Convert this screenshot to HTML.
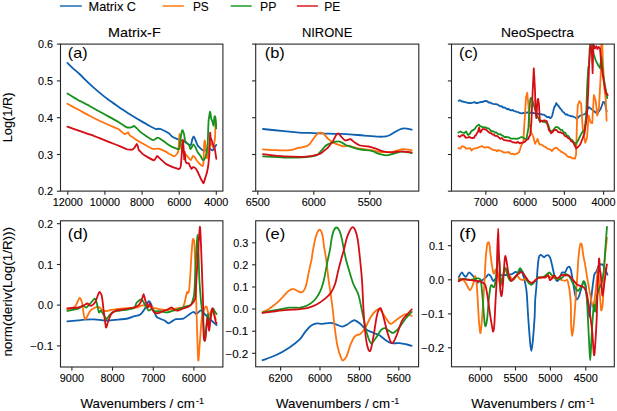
<!DOCTYPE html><html><head><meta charset="utf-8"><style>html,body{margin:0;padding:0;background:#fff;}svg{display:block;}text{font-family:"Liberation Sans", sans-serif;fill:#000;stroke:#000;stroke-width:0.1px;}</style></head><body>
<svg width="617" height="411" viewBox="0 0 617 411">
<rect width="617" height="411" fill="#fff"/>
<defs>
<clipPath id="clipa"><rect x="60.5" y="44.1" width="162.4" height="147.0"/></clipPath>
<clipPath id="clipb"><rect x="255.7" y="44.1" width="163.1" height="147.0"/></clipPath>
<clipPath id="clipc"><rect x="451.5" y="44.1" width="162.8" height="147.0"/></clipPath>
<clipPath id="clipd"><rect x="60.5" y="220.8" width="162.4" height="146.2"/></clipPath>
<clipPath id="clipe"><rect x="255.7" y="220.8" width="162.9" height="146.0"/></clipPath>
<clipPath id="clipf"><rect x="451.5" y="220.8" width="162.8" height="146.0"/></clipPath>
</defs>
<g clip-path="url(#clipa)" fill="none" stroke-width="1.8" stroke-linejoin="round" stroke-linecap="round">
<path stroke="#0d5fb0" d="M67.40,62.90C67.87,63.35 71.99,67.38 73.00,68.30C74.01,69.22 78.17,72.75 79.50,74.00C80.83,75.25 87.38,81.79 89.00,83.30C90.62,84.81 97.28,90.72 98.90,92.10C100.53,93.47 106.88,98.58 108.50,99.80C110.12,101.02 117.17,105.85 118.40,106.70C119.63,107.55 122.25,109.31 123.30,110.00C124.35,110.69 129.61,114.13 131.00,115.00C132.39,115.87 138.52,119.53 140.00,120.40C141.48,121.28 147.46,124.77 148.80,125.50C150.14,126.23 155.32,128.93 156.10,129.20C156.88,129.47 157.77,128.70 158.20,128.70C158.62,128.70 160.28,128.79 161.20,129.20C162.12,129.61 168.30,132.99 169.20,133.60C170.10,134.21 171.36,136.06 172.00,136.50C172.64,136.94 176.17,138.58 176.90,138.90C177.63,139.22 180.15,140.16 180.80,140.40C181.45,140.64 184.02,141.44 184.70,141.80C185.38,142.16 188.47,144.46 189.00,144.70C189.53,144.94 190.72,145.18 191.00,144.70C191.28,144.22 192.16,139.58 192.40,138.90C192.64,138.22 193.65,136.42 193.90,136.50C194.15,136.58 195.12,139.22 195.40,139.90C195.68,140.58 196.90,144.01 197.30,144.70C197.70,145.39 199.73,147.72 200.20,148.20C200.67,148.67 202.47,150.22 202.90,150.40C203.33,150.58 204.90,150.56 205.30,150.40C205.70,150.24 207.29,148.61 207.70,148.50C208.11,148.39 209.79,148.94 210.20,149.10C210.61,149.26 212.25,150.55 212.60,150.40C212.95,150.25 214.09,147.76 214.40,147.30C214.71,146.84 216.14,145.10 216.30,144.90"/>
<path stroke="#ff720c" d="M67.40,103.80C68.41,104.34 77.70,109.33 79.50,110.30C81.30,111.27 87.38,114.65 89.00,115.50C90.62,116.35 97.15,119.67 98.90,120.50C100.65,121.33 108.38,124.78 110.00,125.50C111.62,126.22 117.22,128.39 118.40,129.10C119.58,129.81 123.57,133.63 124.20,134.00C124.83,134.37 125.67,133.63 126.00,133.50C126.33,133.37 127.79,132.25 128.10,132.40C128.41,132.55 129.21,134.82 129.70,135.30C130.19,135.78 133.14,137.63 134.00,138.20C134.86,138.77 138.87,141.42 140.00,142.10C141.13,142.78 146.54,145.73 147.60,146.30C148.66,146.87 152.00,148.69 152.70,148.90C153.40,149.11 155.47,148.83 156.00,148.80C156.53,148.78 158.22,148.38 159.00,148.60C159.78,148.82 164.38,150.93 165.30,151.40C166.22,151.87 169.26,153.79 170.00,154.20C170.74,154.61 173.62,156.32 174.20,156.30C174.77,156.28 176.58,154.36 176.90,154.00C177.22,153.64 177.84,152.78 178.00,152.00C178.16,151.22 178.68,146.19 178.80,144.70C178.93,143.21 179.38,134.66 179.50,134.10C179.62,133.54 180.02,136.71 180.20,138.00C180.38,139.29 181.49,148.39 181.70,149.60C181.91,150.81 182.45,152.18 182.70,152.50C182.95,152.82 184.38,153.26 184.70,153.50C185.02,153.74 186.24,154.99 186.60,155.40C186.96,155.81 188.63,158.01 189.00,158.40C189.37,158.79 190.68,160.31 191.00,160.10C191.32,159.89 192.58,156.12 192.90,155.90C193.22,155.68 194.53,156.95 194.90,157.40C195.27,157.85 196.86,160.72 197.30,161.30C197.74,161.88 199.78,163.99 200.20,164.40C200.62,164.81 202.03,166.31 202.30,166.20C202.58,166.09 203.35,164.88 203.50,163.10C203.65,161.32 203.99,146.78 204.10,144.90C204.21,143.02 204.65,140.30 204.80,140.50C204.95,140.70 205.71,145.82 205.90,147.30C206.09,148.78 206.89,157.89 207.10,158.30C207.31,158.71 208.20,153.31 208.40,152.20C208.60,151.09 209.25,145.71 209.50,145.00C209.75,144.29 211.09,143.51 211.40,143.70C211.71,143.89 212.90,147.78 213.20,147.30C213.50,146.83 214.81,140.15 215.00,138.00C215.19,135.85 215.40,122.50 215.50,121.50C215.60,120.50 216.14,125.62 216.20,126.00"/>
<path stroke="#18901c" d="M67.40,93.50C68.28,94.04 76.18,98.98 78.00,100.00C79.82,101.02 87.49,104.78 89.20,105.70C90.91,106.62 96.88,110.09 98.50,111.00C100.12,111.91 107.08,115.70 108.70,116.60C110.33,117.50 116.54,120.92 118.00,121.80C119.46,122.67 125.20,126.62 126.20,127.10C127.20,127.58 129.52,127.59 130.00,127.60C130.48,127.61 131.67,127.33 132.00,127.20C132.33,127.07 133.59,125.91 134.00,126.00C134.41,126.09 136.40,127.83 136.90,128.30C137.40,128.77 139.26,130.97 140.00,131.60C140.74,132.22 144.71,135.09 145.80,135.80C146.89,136.51 152.12,139.94 153.10,140.10C154.07,140.26 156.77,137.72 157.50,137.70C158.23,137.68 160.83,139.21 161.90,139.90C162.97,140.59 169.23,145.29 170.40,146.00C171.57,146.71 175.16,148.14 175.90,148.40C176.64,148.66 178.93,149.73 179.30,149.10C179.67,148.47 180.13,142.06 180.30,140.80C180.47,139.54 181.14,134.88 181.30,134.00C181.46,133.12 182.04,130.41 182.20,130.20C182.36,129.99 183.03,131.10 183.20,131.50C183.37,131.90 184.04,134.22 184.20,135.00C184.36,135.78 184.86,140.11 185.10,140.80C185.34,141.49 186.78,142.98 187.10,143.30C187.42,143.62 188.72,144.22 189.00,144.70C189.28,145.18 190.25,148.93 190.50,149.10C190.75,149.27 191.76,147.10 192.00,146.70C192.24,146.30 193.12,144.26 193.40,144.30C193.68,144.34 195.08,146.59 195.40,147.20C195.72,147.81 196.88,150.88 197.30,151.60C197.72,152.32 199.93,155.09 200.40,155.80C200.87,156.51 202.54,159.84 202.90,160.10C203.26,160.36 204.40,159.46 204.70,158.90C205.00,158.34 206.25,154.56 206.50,153.40C206.75,152.24 207.56,147.01 207.70,145.00C207.84,142.99 208.12,131.42 208.20,129.30C208.28,127.18 208.59,120.82 208.70,119.60C208.81,118.38 209.40,115.35 209.50,114.70C209.60,114.05 209.81,111.88 209.90,111.80C209.99,111.72 210.50,113.13 210.60,113.70C210.70,114.27 210.97,118.03 211.10,118.60C211.22,119.17 211.93,120.02 212.10,120.50C212.27,120.98 212.97,123.99 213.10,124.40C213.23,124.81 213.60,125.97 213.70,125.40C213.80,124.83 214.19,118.37 214.30,117.60C214.41,116.83 214.88,116.03 215.00,116.20C215.12,116.37 215.60,118.59 215.70,119.60C215.80,120.61 216.16,127.58 216.20,128.30"/>
<path stroke="#d40c14" d="M67.40,126.60C68.41,126.96 77.87,130.32 79.50,130.90C81.13,131.48 86.17,133.31 87.00,133.60C87.83,133.89 89.12,134.30 89.50,134.40C89.88,134.50 90.72,134.51 91.50,134.80C92.28,135.09 97.47,137.31 98.90,137.90C100.33,138.49 107.08,141.26 108.70,141.90C110.33,142.54 116.94,145.01 118.40,145.60C119.86,146.19 125.23,148.66 126.20,149.00C127.17,149.34 129.47,149.66 130.00,149.70C130.53,149.74 132.09,149.72 132.50,149.50C132.91,149.28 134.53,147.56 134.90,147.10C135.27,146.64 136.65,144.05 136.90,144.00C137.15,143.95 137.74,146.00 137.90,146.50C138.06,147.00 138.62,149.62 138.80,150.00C138.98,150.38 139.69,150.78 140.00,151.10C140.31,151.42 141.87,153.40 142.50,153.90C143.13,154.40 146.65,156.57 147.60,157.10C148.55,157.63 153.24,160.18 153.90,160.30C154.56,160.42 155.23,158.88 155.50,158.50C155.77,158.12 156.81,155.87 157.10,155.80C157.39,155.73 158.32,157.07 159.00,157.70C159.68,158.33 164.25,162.66 165.30,163.40C166.35,164.14 170.72,166.21 171.60,166.60C172.48,166.99 175.30,167.89 175.90,168.10C176.50,168.31 178.39,169.26 178.80,169.10C179.21,168.94 180.56,167.42 180.80,166.20C181.04,164.98 181.52,156.69 181.70,154.50C181.88,152.31 182.73,140.31 182.90,139.90C183.07,139.49 183.59,147.98 183.70,149.60C183.81,151.22 184.12,159.13 184.20,159.30C184.28,159.47 184.60,151.52 184.70,151.60C184.80,151.68 185.24,159.33 185.40,160.30C185.56,161.27 186.33,162.96 186.60,163.20C186.87,163.44 188.32,162.95 188.60,163.20C188.88,163.45 189.76,165.71 190.00,166.20C190.24,166.69 191.26,169.03 191.50,169.10C191.74,169.17 192.58,167.18 192.90,167.10C193.22,167.02 195.03,167.78 195.40,168.10C195.77,168.42 196.88,170.19 197.30,171.00C197.72,171.81 199.98,176.93 200.40,177.80C200.82,178.67 202.04,180.95 202.30,181.40C202.56,181.85 203.25,183.50 203.50,183.20C203.75,182.90 205.00,178.76 205.30,177.80C205.60,176.84 206.84,172.82 207.10,171.70C207.36,170.58 208.19,166.23 208.40,164.40C208.61,162.57 209.46,152.34 209.60,149.70C209.74,147.06 210.02,133.75 210.10,132.70C210.18,131.65 210.47,136.49 210.60,137.10C210.72,137.71 211.43,139.47 211.60,140.00C211.77,140.53 212.37,142.89 212.60,143.50C212.83,144.11 214.20,146.78 214.40,147.30C214.60,147.82 214.89,149.09 215.00,149.70C215.11,150.31 215.59,153.83 215.70,154.60C215.81,155.37 216.25,158.54 216.30,158.90"/>
</g>
<g clip-path="url(#clipb)" fill="none" stroke-width="1.8" stroke-linejoin="round" stroke-linecap="round">
<path stroke="#0d5fb0" d="M263.00,129.00C266.53,129.37 278.23,130.60 284.20,131.20C290.17,131.80 293.93,132.28 298.80,132.60C303.67,132.92 308.53,132.92 313.40,133.10C318.27,133.28 323.57,133.57 328.00,133.70C332.43,133.83 336.40,133.80 340.00,133.90C343.60,134.00 345.57,134.02 349.60,134.30C353.63,134.58 359.33,135.20 364.20,135.60C369.07,136.00 375.15,136.58 378.80,136.70C382.45,136.82 384.15,136.62 386.10,136.30C388.05,135.98 388.80,135.65 390.50,134.80C392.20,133.95 394.35,132.22 396.30,131.20C398.25,130.18 400.48,129.13 402.20,128.70C403.92,128.27 405.02,128.43 406.60,128.60C408.18,128.77 410.85,129.52 411.70,129.70"/>
<path stroke="#ff720c" d="M263.00,149.40C265.32,149.53 272.40,150.07 276.90,150.20C281.40,150.33 286.35,150.62 290.00,150.20C293.65,149.78 297.13,148.08 298.80,147.70C300.47,147.32 299.13,148.05 300.00,147.90C300.87,147.75 302.72,147.17 304.00,146.80C305.28,146.43 306.70,146.22 307.70,145.70C308.70,145.18 309.28,144.52 310.00,143.70C310.72,142.88 310.93,142.28 312.00,140.80C313.07,139.32 315.02,136.17 316.40,134.80C317.78,133.43 319.12,132.78 320.30,132.60C321.48,132.42 322.13,132.60 323.50,133.70C324.87,134.80 326.95,137.75 328.50,139.20C330.05,140.65 331.17,141.50 332.80,142.40C334.43,143.30 336.47,143.95 338.30,144.60C340.13,145.25 342.15,146.12 343.80,146.30C345.45,146.48 346.38,145.52 348.20,145.70C350.02,145.88 352.77,146.90 354.70,147.40C356.63,147.90 357.00,148.23 359.80,148.70C362.60,149.17 367.85,149.63 371.50,150.20C375.15,150.77 378.05,151.87 381.70,152.10C385.35,152.33 389.98,152.10 393.40,151.60C396.82,151.10 399.15,149.33 402.20,149.10C405.25,148.87 410.12,150.02 411.70,150.20"/>
<path stroke="#18901c" d="M263.00,156.40C266.53,156.58 277.02,157.40 284.20,157.50C291.38,157.60 300.75,157.37 306.10,157.00C311.45,156.63 314.07,156.03 316.30,155.30C318.53,154.57 318.57,153.45 319.50,152.60C320.43,151.75 321.07,151.17 321.90,150.20C322.73,149.23 323.58,147.73 324.50,146.80C325.42,145.87 326.02,145.33 327.40,144.60C328.78,143.87 330.98,142.93 332.80,142.40C334.62,141.87 336.83,141.40 338.30,141.40C339.77,141.40 340.32,141.77 341.60,142.40C342.88,143.03 344.67,144.53 346.00,145.20C347.33,145.87 347.30,145.70 349.60,146.40C351.90,147.10 356.15,148.65 359.80,149.40C363.45,150.15 368.33,150.17 371.50,150.90C374.67,151.63 376.37,153.07 378.80,153.80C381.23,154.53 383.67,155.30 386.10,155.30C388.53,155.30 390.72,154.42 393.40,153.80C396.08,153.18 399.15,151.72 402.20,151.60C405.25,151.48 410.12,152.85 411.70,153.10"/>
<path stroke="#d40c14" d="M263.00,154.10C266.53,154.48 277.02,155.97 284.20,156.40C291.38,156.83 300.50,157.02 306.10,156.70C311.70,156.38 315.15,155.20 317.80,154.50C320.45,153.80 320.80,153.25 322.00,152.50C323.20,151.75 324.10,150.72 325.00,150.00C325.90,149.28 326.57,149.03 327.40,148.20C328.23,147.37 329.10,146.13 330.00,145.00C330.90,143.87 331.78,143.02 332.80,141.40C333.82,139.78 335.18,136.63 336.10,135.30C337.02,133.97 337.48,133.22 338.30,133.40C339.12,133.58 339.90,135.25 341.00,136.40C342.10,137.55 343.82,139.70 344.90,140.30C345.98,140.90 346.58,140.18 347.50,140.00C348.42,139.82 349.20,138.80 350.40,139.20C351.60,139.60 353.10,141.35 354.70,142.40C356.30,143.45 357.68,144.82 360.00,145.50C362.32,146.18 365.95,145.97 368.60,146.50C371.25,147.03 373.47,147.90 375.90,148.70C378.33,149.50 380.77,150.68 383.20,151.30C385.63,151.92 387.58,152.40 390.50,152.40C393.42,152.40 397.17,151.30 400.70,151.30C404.23,151.30 409.87,152.22 411.70,152.40"/>
</g>
<g clip-path="url(#clipc)" fill="none" stroke-width="1.8" stroke-linejoin="round" stroke-linecap="round">
<polyline stroke="#0d5fb0" points="458.7,100.8 459.8,100.2 462.0,101.5 464.2,101.9 466.1,102.4 468.0,102.8 469.6,103.2 471.3,103.0 472.9,102.6 474.4,102.1 476.0,103.0 477.8,103.0 479.5,102.4 481.2,102.0 483.0,101.8 484.4,101.2 485.8,100.9 487.2,101.3 488.6,102.5 490.0,102.5 491.6,103.4 493.2,103.8 494.8,104.1 496.2,104.1 497.6,104.6 498.9,105.4 500.3,106.3 501.7,106.2 503.1,107.7 504.4,107.5 505.8,108.1 507.2,109.3 508.6,108.8 509.9,110.0 511.3,110.3 512.7,110.0 514.0,111.0 515.4,111.4 516.8,111.8 518.4,112.2 520.1,113.2 521.7,113.4 523.5,112.9 525.4,113.2 527.2,112.4 528.7,112.7 530.2,112.7 531.7,113.3 533.2,112.8 534.7,113.3 536.2,113.0 537.8,113.9 539.3,114.0 540.8,114.1 542.3,114.6 543.9,114.6 545.4,115.8 547.0,117.0 548.7,116.8 550.3,118.2 551.2,117.6 552.1,115.8 552.5,114.3 552.8,112.9 553.2,111.4 553.5,110.0 553.9,108.5 554.5,106.4 555.0,106.4 555.6,104.9 556.2,103.1 557.1,104.4 557.9,105.4 558.8,106.3 559.6,107.7 560.6,108.9 561.6,109.9 562.5,111.6 563.5,112.2 564.5,113.2 565.5,114.5 566.9,114.3 568.4,115.4 569.8,115.7 571.2,116.3 572.6,116.2 574.0,117.0 575.4,117.5 576.7,119.0 577.9,117.9 579.0,116.7 580.2,115.6 581.9,115.0 583.6,114.5 585.3,113.9 586.0,112.5 586.7,111.1 587.3,109.8 588.0,108.4 588.7,107.0 589.9,107.9 591.0,108.7 592.2,109.6 593.5,110.7 594.8,111.8 596.0,112.8 597.3,113.9 598.1,112.6 599.0,111.3 599.9,110.0 600.7,108.7 601.2,107.3 601.7,106.0 602.2,104.6 602.7,103.3 603.2,101.9 604.9,102.8 605.2,104.2 605.5,105.6 605.8,107.0 606.0,108.5 606.3,109.9 606.6,111.3"/>
<polyline stroke="#ff720c" points="458.4,148.1 460.5,148.6 461.4,146.9 462.3,146.1 464.7,147.1 465.9,148.5 467.2,148.6 469.5,148.1 470.5,148.5 471.5,150.5 473.5,148.6 474.9,148.6 476.4,148.1 477.9,147.6 479.3,147.1 480.8,146.5 482.3,146.1 483.8,147.3 485.2,147.6 486.6,147.2 488.1,147.1 489.6,147.9 491.0,148.6 492.4,149.7 493.9,150.0 495.4,150.1 496.9,151.2 498.4,150.1 499.9,150.6 501.3,151.0 502.8,151.9 504.3,152.7 505.8,152.3 507.2,152.3 508.6,152.0 510.0,153.2 511.5,154.1 512.9,153.6 514.3,154.5 515.7,154.1 517.4,153.4 519.0,152.3 519.9,150.0 520.3,148.6 520.7,147.2 521.1,145.8 522.3,143.8 523.3,142.5 523.4,141.1 523.5,139.6 523.6,138.2 523.6,136.7 523.7,135.3 523.8,133.9 523.9,132.4 524.0,131.0 524.1,129.6 524.1,128.1 524.2,126.7 524.3,125.2 524.4,123.8 524.5,122.3 524.6,120.9 524.7,119.4 524.8,118.0 524.8,116.5 524.9,115.0 525.0,113.6 525.1,112.1 525.2,110.7 525.3,109.2 525.4,107.7 525.5,106.3 525.6,104.8 525.6,103.3 525.7,101.9 525.8,100.4 525.9,99.0 526.0,97.5 526.4,95.9 526.8,94.4 527.2,92.8 527.4,94.3 527.5,95.8 527.6,97.4 527.8,98.9 528.0,100.4 528.1,102.0 528.2,103.5 528.4,105.0 528.5,106.5 528.6,108.0 528.7,109.5 528.8,110.9 528.9,112.4 529.0,113.9 529.0,115.4 529.1,116.9 529.2,118.4 529.3,119.8 529.4,121.3 529.5,122.8 529.6,124.3 529.9,125.7 530.2,127.1 530.5,128.6 530.8,130.0 531.1,131.4 531.4,132.8 532.3,134.5 533.2,136.5 533.6,138.0 534.0,139.4 534.3,140.9 534.7,142.3 535.1,143.8 535.9,141.9 536.7,141.0 537.5,138.9 538.1,140.1 538.7,142.8 539.3,143.8 540.0,144.6 541.7,144.7 543.4,146.2 545.1,146.8 546.5,147.9 547.8,148.8 549.2,148.9 550.5,149.7 551.9,151.1 553.3,149.3 554.8,148.2 556.2,147.7 557.4,148.3 558.6,150.0 559.7,150.3 560.9,151.8 562.1,151.9 563.4,153.2 564.7,153.7 565.9,154.4 567.2,156.2 568.9,157.1 570.6,157.0 572.0,158.3 573.5,158.2 574.9,158.7 575.3,157.3 575.7,155.9 576.1,154.5 576.1,153.1 576.2,151.6 576.2,150.2 576.3,148.7 576.3,147.3 576.3,145.8 576.4,144.4 576.4,143.0 576.4,141.5 576.5,140.1 576.5,138.6 576.6,137.2 576.6,135.8 576.6,134.3 576.7,132.9 576.7,131.4 576.8,130.0 576.8,128.5 576.8,127.1 576.9,125.7 576.9,124.2 576.9,122.8 577.0,121.3 577.0,119.9 577.1,118.4 577.1,117.0 577.2,115.5 577.3,114.0 577.4,112.5 577.5,111.0 577.5,109.6 577.6,108.1 577.7,106.6 577.8,105.1 578.3,103.8 578.9,102.4 579.4,101.1 580.2,102.3 581.1,103.6 581.2,105.0 581.3,106.4 581.4,107.9 581.5,109.3 581.6,110.7 581.7,112.1 581.8,113.6 581.9,115.0 582.0,116.4 582.0,117.8 582.1,119.2 582.2,120.7 582.3,122.1 582.4,123.5 582.5,124.9 582.6,126.4 582.7,127.8 582.8,129.2 583.1,130.7 583.4,132.2 583.6,133.7 583.9,135.2 584.2,136.8 584.5,138.3 584.7,139.8 585.0,141.3 585.3,142.8 585.9,141.1 586.4,139.4 587.0,137.7 587.1,136.2 587.2,134.8 587.3,133.3 587.5,131.8 587.6,130.3 587.7,128.9 587.8,127.4 587.9,125.9 588.0,124.4 588.1,123.0 588.2,121.5 588.4,120.0 588.5,118.5 588.6,117.1 588.7,115.6 589.1,117.0 589.4,118.3 589.8,119.7 590.1,121.0 590.5,122.4 592.2,123.2 592.3,121.8 592.4,120.4 592.5,119.0 592.5,117.6 592.6,116.2 592.7,114.8 592.8,113.4 592.9,112.0 593.0,110.6 593.0,109.2 593.1,107.7 593.2,106.3 593.3,104.9 593.4,103.5 593.5,102.1 593.6,100.7 593.6,99.3 593.7,97.9 593.8,96.5 593.9,95.1 594.5,96.8 595.0,98.5 595.6,100.2 595.8,101.6 595.9,103.0 596.1,104.4 596.2,105.8 596.4,107.2 596.5,108.6 596.7,110.0 596.8,111.4 597.0,112.8 597.1,114.2 597.3,115.6 597.6,114.2 597.9,112.7 598.1,111.3 598.4,109.9 598.7,108.4 599.0,107.0 599.1,105.5 599.2,104.1 599.2,102.6 599.3,101.2 599.4,99.7 599.5,98.3 599.5,96.8 599.6,95.4 599.7,93.9 599.8,92.5 599.9,91.0 599.9,89.5 600.0,88.1 600.1,86.6 600.2,85.2 600.2,83.7 600.3,82.3 600.4,80.8 600.5,79.4 600.5,77.9 600.6,76.5 600.7,75.0 600.7,73.6 600.7,72.2 600.8,70.8 600.8,69.4 600.8,68.0 600.8,66.5 600.9,65.1 600.9,63.7 600.9,62.3 600.9,60.9 601.0,59.5 601.0,58.1 601.0,56.7 601.0,55.3 601.0,53.9 601.1,52.5 601.1,51.0 601.1,49.6 601.1,48.2 601.2,46.8 601.2,45.4 601.2,44.0 601.7,42.0 602.1,40.0 602.2,41.4 602.2,42.9 602.3,44.3 602.3,45.7 602.4,47.2 602.4,48.6 602.5,50.0 602.5,51.5 602.6,52.9 602.6,54.3 602.7,55.8 602.7,57.2 602.8,58.6 602.8,60.1 602.9,61.5 603.0,63.0 603.1,64.4 603.1,65.9 603.2,67.3 603.3,68.8 603.4,70.3 603.4,71.7 603.5,73.2 603.6,74.7 603.7,76.1 603.8,77.6 603.8,79.0 603.9,80.5 604.0,82.0 604.1,83.4 604.1,84.9 604.2,86.3 604.3,87.8 604.5,89.3 604.7,90.7 604.9,92.2 605.0,93.7 605.2,95.1 605.4,96.6 605.6,98.0 605.8,99.5 605.9,100.9 605.9,102.3 606.0,103.7 606.0,105.2 606.1,106.6 606.1,108.0 606.2,109.4 606.2,110.8 606.3,112.2 606.3,113.6 606.4,115.0 606.4,116.5 606.5,117.9 606.5,119.3 606.6,120.7"/>
<polyline stroke="#18901c" points="458.4,132.5 460.4,131.5 462.3,132.5 464.2,133.0 466.2,131.5 467.1,133.5 468.1,135.0 470.1,133.5 471.1,131.5 472.0,130.6 474.0,129.6 474.9,128.8 475.9,127.2 477.4,125.5 478.8,124.7 480.1,126.1 481.3,126.7 482.8,127.0 484.2,127.5 485.6,127.3 487.1,128.1 488.6,128.4 490.0,129.6 491.2,131.1 492.5,131.1 493.8,131.6 495.0,132.5 496.4,132.4 497.7,133.8 499.1,134.4 500.4,134.2 501.8,135.2 503.1,135.9 504.4,137.0 505.8,137.0 507.4,137.1 509.1,137.4 510.8,138.6 512.4,138.7 515.0,138.7 516.6,138.9 518.3,138.5 519.9,137.7 521.5,137.0 523.0,137.5 524.8,138.8 526.5,138.9 526.8,137.3 527.0,135.8 527.3,134.2 527.6,132.7 527.9,131.1 528.1,129.6 528.4,128.0 528.5,126.6 528.6,125.1 528.6,123.7 528.7,122.3 528.8,120.8 528.9,119.4 529.0,117.9 529.1,116.5 529.1,115.1 529.2,113.6 529.3,112.2 529.4,110.7 529.5,109.2 529.6,107.6 529.8,106.1 529.9,104.6 530.0,103.0 530.1,101.5 530.2,100.0 530.8,97.9 532.0,99.0 532.4,100.4 532.8,101.8 533.2,103.2 533.6,104.6 534.0,106.0 534.5,107.5 535.0,109.0 535.5,110.5 536.0,112.0 536.5,113.5 537.0,115.0 537.6,117.2 538.1,117.7 538.7,118.6 539.3,120.5 540.0,120.4 541.4,120.6 542.7,121.8 544.1,121.8 545.4,122.5 546.8,122.1 547.4,124.2 548.0,124.4 548.6,126.0 549.3,128.7 549.9,130.0 550.5,130.9 551.1,132.3 552.1,130.7 553.1,130.2 554.2,128.8 555.2,127.5 556.2,126.9 557.7,127.3 559.2,128.5 560.6,129.8 562.1,129.8 563.1,131.3 564.1,132.7 565.2,132.6 566.2,134.3 567.2,135.7 568.5,136.1 569.8,138.3 571.0,139.6 572.3,140.0 573.4,142.1 574.6,142.5 575.7,144.3 576.6,142.9 577.4,141.4 578.3,140.0 579.4,137.7 580.0,136.4 580.6,135.1 581.3,133.9 581.9,132.6 583.2,131.3 584.5,130.1 584.7,128.7 584.8,127.2 585.0,125.8 585.2,124.3 585.4,122.8 585.5,121.4 585.7,119.9 585.9,118.5 586.0,117.0 586.2,115.6 586.2,114.2 586.3,112.8 586.3,111.3 586.4,109.9 586.4,108.5 586.5,107.1 586.5,105.6 586.6,104.2 586.6,102.8 586.6,101.4 586.7,100.0 586.7,98.5 586.8,97.1 586.8,95.7 586.9,94.3 586.9,92.8 587.0,91.4 587.0,90.0 587.1,88.4 587.2,86.8 587.2,85.2 587.3,83.7 587.4,82.1 587.5,80.5 587.6,79.0 587.7,77.6 587.8,76.1 587.9,74.7 587.9,73.2 588.0,71.8 588.1,70.3 588.2,68.9 588.3,67.4 589.0,65.9 589.1,64.4 589.1,63.0 589.2,61.5 589.2,60.1 589.3,58.6 589.4,57.2 589.4,55.7 589.5,54.2 589.5,52.8 589.6,51.3 589.6,49.9 589.7,48.4 590.0,46.9 590.2,45.5 590.5,44.0 590.8,42.5 591.0,41.0 591.2,39.5 591.5,38.0 591.7,39.4 591.9,40.8 592.1,42.2 592.3,43.6 592.5,45.0 592.7,46.6 592.9,48.1 593.0,49.7 593.2,51.2 593.4,52.8 593.8,54.3 594.3,55.7 594.7,57.2 595.2,58.6 595.6,60.1 596.3,61.6 597.1,63.0 597.8,64.5 598.5,65.7 599.3,66.9 600.0,68.1 600.2,66.5 600.4,65.0 600.6,63.4 600.8,61.9 601.0,60.3 601.2,58.8 601.4,57.2 601.5,58.7 601.7,60.1 601.8,61.6 601.9,63.0 602.1,64.5 602.2,65.9 602.4,67.4 602.5,68.8 602.6,70.3 602.8,71.7 602.9,73.2 603.1,74.7 603.4,76.1 603.6,77.6 603.9,79.1 604.1,80.5 604.4,82.0 604.6,83.5 604.9,84.9 605.1,86.4 605.4,87.9 605.6,89.3 605.9,90.8 606.2,92.2 606.5,93.7 606.8,95.2 607.0,96.6 607.3,98.1"/>
<polyline stroke="#d40c14" points="458.4,135.9 459.9,136.9 461.1,135.8 462.3,135.0 464.2,135.4 464.9,136.5 465.7,137.9 468.1,137.4 469.6,136.9 471.1,137.9 472.6,138.0 474.0,137.9 474.9,135.9 475.9,135.4 476.9,133.1 477.9,132.0 478.3,130.6 478.7,129.1 479.1,127.7 479.5,129.3 479.9,130.9 480.3,132.5 481.2,131.5 482.3,129.1 484.2,129.1 485.6,129.5 487.1,130.6 488.6,132.1 490.0,133.0 491.2,133.1 492.5,134.5 493.8,134.4 495.0,135.9 496.4,135.8 497.7,136.5 499.1,137.6 500.4,138.8 501.8,138.0 503.1,139.4 504.4,140.2 505.8,140.3 507.3,140.5 508.7,140.9 510.2,140.7 511.7,141.7 513.1,142.4 514.6,142.5 516.2,142.9 517.9,141.9 519.5,143.3 521.1,142.8 522.9,142.5 524.7,142.0 525.9,140.4 527.2,139.5 528.4,138.9 529.3,136.3 530.2,135.3 530.3,133.8 530.5,132.3 530.6,130.8 530.7,129.3 530.9,127.9 531.0,126.4 531.1,124.9 531.3,123.4 531.4,121.9 531.5,120.5 531.5,119.1 531.6,117.7 531.6,116.2 531.7,114.8 531.7,113.4 531.8,112.0 531.9,110.6 531.9,109.2 532.0,107.7 532.0,106.3 532.1,104.9 532.2,103.5 532.2,102.1 532.3,100.7 532.3,99.2 532.4,97.8 532.4,96.4 532.5,95.0 532.6,93.6 532.6,92.2 532.7,90.8 532.8,89.4 532.8,88.0 532.9,86.6 533.0,85.2 533.0,83.8 533.1,82.4 533.2,80.9 533.3,79.5 533.3,78.1 533.4,76.7 533.5,75.3 533.5,73.9 533.6,72.5 533.7,71.1 533.7,69.7 533.8,68.3 533.9,69.7 534.0,71.2 534.0,72.6 534.1,74.1 534.2,75.5 534.3,77.0 534.4,78.4 534.4,79.9 534.5,81.3 534.6,82.8 534.7,84.2 534.8,85.7 534.8,87.1 534.9,88.6 535.0,90.0 535.0,91.4 535.1,92.9 535.1,94.3 535.1,95.7 535.2,97.2 535.2,98.6 535.2,100.0 535.2,101.4 535.3,102.9 535.3,104.3 535.3,105.7 535.4,107.2 535.4,108.6 535.5,110.2 535.7,111.8 535.8,113.4 536.0,115.0 536.1,116.6 536.3,118.2 536.4,116.8 536.5,115.4 536.6,114.0 536.7,112.6 536.8,111.2 536.9,109.8 536.9,108.4 537.0,107.0 537.1,105.6 537.2,104.2 537.3,102.8 537.4,101.4 537.5,100.0 538.1,98.9 538.3,100.4 538.5,102.0 538.8,103.5 539.0,105.0 539.1,106.4 539.1,107.8 539.2,109.2 539.3,110.6 539.4,112.0 539.5,113.5 539.5,114.9 539.6,116.3 539.7,117.7 539.8,119.1 539.8,120.5 539.9,121.9 541.5,121.0 543.0,120.7 544.9,120.4 546.8,121.3 547.2,122.8 547.5,124.3 547.9,125.8 548.3,127.4 548.6,128.9 549.0,130.4 550.0,131.2 551.1,133.2 552.5,132.3 553.9,130.2 555.3,129.8 556.7,130.2 558.0,131.9 559.4,132.4 560.7,132.2 562.1,133.2 563.2,133.3 564.4,135.4 565.5,136.2 566.6,136.7 567.8,137.9 568.9,138.3 570.0,139.3 571.0,140.9 572.1,141.5 573.2,142.6 573.9,143.4 574.7,146.0 575.4,146.2 576.1,148.5 578.3,146.8 579.2,145.7 580.2,144.5 580.7,143.1 581.3,141.8 581.8,140.4 582.4,139.0 582.9,137.6 583.4,136.2 584.0,134.9 584.5,133.5 584.7,132.0 584.9,130.5 585.1,129.0 585.3,127.5 585.5,126.0 585.8,124.5 586.0,123.1 586.2,121.6 586.4,120.1 586.6,118.6 586.8,117.1 587.0,115.6 587.1,114.2 587.1,112.8 587.2,111.3 587.3,109.9 587.4,108.5 587.4,107.1 587.5,105.6 587.6,104.2 587.6,102.8 587.7,101.4 587.8,100.0 587.9,98.5 587.9,97.1 588.0,95.7 588.1,94.3 588.2,92.8 588.2,91.4 588.3,90.0 588.3,88.6 588.4,87.2 588.4,85.7 588.5,84.3 588.5,82.9 588.5,81.5 588.6,80.1 588.6,78.7 588.7,77.2 588.7,75.8 588.8,74.4 588.8,73.0 588.8,71.6 588.9,70.2 588.9,68.7 589.0,67.3 589.0,65.9 589.1,64.4 589.2,63.0 589.3,61.5 589.4,60.1 589.5,58.6 589.6,57.1 589.7,55.7 589.8,54.2 589.9,52.8 590.0,51.3 590.1,49.8 590.2,48.4 590.3,46.9 590.4,45.5 590.5,44.0 590.7,45.5 591.0,46.9 591.2,48.4 591.4,49.9 591.7,51.3 591.9,52.8 591.9,54.3 592.0,55.7 592.0,57.2 592.1,58.6 592.1,60.1 592.2,61.5 592.2,63.0 592.3,64.5 592.4,65.9 592.4,67.4 592.5,68.8 592.5,70.3 592.6,71.7 592.6,73.2 592.6,71.7 592.7,70.3 592.7,68.8 592.8,67.4 592.8,65.9 592.8,64.4 592.9,63.0 592.9,61.5 593.0,60.1 593.0,58.6 593.0,57.1 593.1,55.7 593.1,54.2 593.2,52.8 593.2,51.3 593.2,49.8 593.3,48.4 593.3,46.9 593.4,45.5 593.4,44.0 593.9,45.5 594.3,46.9 594.8,48.4 596.3,46.2 596.8,47.6 597.4,49.0 598.5,46.9 600.0,48.4 600.1,49.9 600.2,51.3 600.4,52.8 600.5,54.2 600.6,55.7 600.7,57.2 600.8,58.6 600.9,60.1 601.0,61.5 601.2,63.0 601.3,64.4 601.4,65.9 601.6,67.4 601.8,68.8 602.1,70.3 602.3,71.7 602.5,73.2 602.7,74.7 602.9,76.1 603.2,77.6 603.4,79.0 603.6,80.5 603.9,82.0 604.1,83.4 604.4,84.9 604.7,86.3 605.0,87.8 605.2,89.3 605.5,90.7 605.8,92.2 606.8,93.7 607.7,95.1"/>
</g>
<g clip-path="url(#clipd)" fill="none" stroke-width="1.8" stroke-linejoin="round" stroke-linecap="round">
<path stroke="#0d5fb0" d="M67.30,321.30C68.58,321.18 76.32,320.49 78.30,320.30C80.28,320.11 82.46,319.81 84.30,319.70C86.14,319.59 91.96,319.33 94.10,319.40C96.23,319.47 100.90,320.17 102.60,320.30C104.30,320.43 106.90,320.57 108.70,320.50C110.50,320.43 115.78,319.93 118.00,319.70C120.22,319.47 125.86,318.88 127.70,318.50C129.54,318.12 132.38,316.83 133.80,316.40C135.22,315.97 138.62,315.70 139.90,314.80C141.18,313.90 143.81,310.26 144.80,308.70C145.79,307.14 147.74,302.06 148.40,301.40C149.06,300.73 149.79,301.72 150.50,303.00C151.21,304.28 153.74,310.73 154.50,312.40C155.26,314.07 155.87,316.38 157.00,317.30C158.13,318.22 162.86,319.60 164.20,320.30C165.54,321.00 167.50,323.23 168.50,323.30C169.50,323.37 171.93,321.38 172.80,320.90C173.68,320.42 174.76,319.47 176.00,319.20C177.24,318.93 181.79,319.21 183.40,318.60C185.01,317.99 188.62,314.79 189.80,314.00C190.98,313.21 192.74,311.80 193.50,311.80C194.26,311.80 195.44,314.18 196.30,314.00C197.16,313.82 199.93,310.30 200.90,310.30C201.87,310.30 203.51,312.93 204.60,314.00C205.69,315.07 208.80,318.20 210.20,319.50C211.60,320.80 215.85,324.45 216.60,325.10"/>
<path stroke="#ff720c" d="M67.30,309.30C68.15,309.02 73.41,307.75 74.60,306.90C75.79,306.05 76.93,303.06 77.50,302.00C78.07,300.94 78.99,297.80 79.50,297.80C80.01,297.80 81.41,300.09 81.90,302.00C82.39,303.91 83.30,312.17 83.70,314.20C84.10,316.23 84.87,319.19 85.30,319.40C85.73,319.61 86.81,317.03 87.40,316.00C88.00,314.97 89.48,311.59 90.40,310.60C91.32,309.61 94.31,307.93 95.30,307.50C96.29,307.07 98.12,306.61 98.90,306.90C99.68,307.19 101.29,309.50 102.00,310.00C102.71,310.50 103.94,311.20 105.00,311.20C106.06,311.20 109.35,310.29 111.10,310.00C112.85,309.71 117.06,308.99 120.00,308.70C122.94,308.41 133.84,307.85 136.30,307.50C138.76,307.15 140.11,305.98 141.10,305.70C142.09,305.42 144.00,305.09 144.80,305.10C145.61,305.11 146.87,305.45 148.00,305.80C149.13,306.15 153.03,307.69 154.50,308.10C155.97,308.51 159.18,309.08 160.60,309.30C162.02,309.52 165.37,310.00 166.70,310.00C168.03,310.00 170.68,309.52 172.00,309.30C173.32,309.08 176.78,308.31 178.00,308.10C179.22,307.89 181.76,308.00 182.50,307.50C183.24,307.00 183.87,305.20 184.30,303.80C184.73,302.40 185.88,296.88 186.20,295.50C186.51,294.12 186.79,292.29 187.00,292.00C187.21,291.71 187.77,293.12 188.00,293.00C188.23,292.88 188.73,293.10 189.00,291.00C189.27,288.90 190.04,278.75 190.30,275.00C190.56,271.25 190.94,262.82 191.20,258.90C191.46,254.98 192.23,243.72 192.50,241.40C192.77,239.08 193.27,238.54 193.50,239.00C193.73,239.46 194.27,241.10 194.50,245.30C194.73,249.50 195.24,266.55 195.50,275.00C195.76,283.45 196.38,307.77 196.70,317.70C197.01,327.63 197.86,356.87 198.20,360.10C198.54,363.33 199.18,350.35 199.60,345.40C200.02,340.45 201.22,322.00 201.80,317.70C202.38,313.39 204.05,309.80 204.60,308.50C205.15,307.20 205.96,305.75 206.50,306.60C207.04,307.45 208.56,315.58 209.20,315.80C209.84,316.02 211.50,309.06 212.00,308.50C212.50,307.94 213.07,309.72 213.50,311.00C213.93,312.28 215.44,318.51 215.70,319.50"/>
<path stroke="#18901c" d="M67.30,310.80C68.58,310.56 76.46,309.30 78.30,308.70C80.14,308.10 82.18,305.84 83.10,305.70C84.02,305.56 85.35,307.78 86.20,307.50C87.05,307.22 89.41,304.34 90.40,303.30C91.39,302.26 93.99,298.75 94.70,298.60C95.41,298.45 96.01,300.39 96.50,302.00C96.99,303.61 98.40,311.40 98.90,312.40C99.40,313.40 100.16,310.18 100.80,310.60C101.44,311.02 103.77,315.01 104.40,316.00C105.03,316.99 105.72,319.04 106.20,319.10C106.68,319.16 107.79,317.28 108.50,316.50C109.21,315.72 111.42,313.06 112.30,312.40C113.17,311.73 115.10,311.01 116.00,310.80C116.90,310.59 117.92,310.92 120.00,310.60C122.08,310.29 131.90,308.95 133.80,308.10C135.70,307.25 135.66,304.22 136.30,303.30C136.94,302.38 138.67,300.63 139.30,300.20C139.93,299.77 141.15,299.27 141.70,299.60C142.25,299.93 143.43,302.01 144.00,303.00C144.57,303.99 146.02,307.21 146.60,308.10C147.18,308.99 148.43,310.50 149.00,310.60C149.57,310.71 150.86,308.93 151.50,309.00C152.14,309.07 153.44,310.94 154.50,311.20C155.56,311.46 159.18,311.06 160.60,311.20C162.02,311.34 165.43,312.40 166.70,312.40C167.97,312.40 170.18,311.56 171.50,311.20C172.82,310.84 176.40,309.84 178.00,309.30C179.60,308.76 183.71,307.12 185.20,306.60C186.69,306.08 189.83,305.87 190.80,304.80C191.77,303.73 193.07,299.13 193.50,297.40C193.93,295.67 194.16,295.63 194.50,290.00C194.84,284.37 196.06,255.56 196.40,249.10C196.74,242.64 197.17,234.61 197.40,234.60C197.63,234.59 198.18,243.90 198.40,249.00C198.62,254.10 199.01,272.35 199.30,278.30C199.59,284.25 200.49,295.40 200.90,300.00C201.31,304.60 202.37,312.94 202.80,317.70C203.23,322.46 204.23,339.37 204.60,340.80C204.97,342.24 205.63,333.13 206.00,330.00C206.37,326.87 207.43,314.58 207.80,314.00C208.17,313.42 208.83,324.77 209.20,325.00C209.57,325.23 210.57,317.93 211.00,316.00C211.43,314.07 212.49,309.08 212.90,308.50C213.31,307.92 214.07,310.36 214.50,311.00C214.93,311.64 216.35,313.65 216.60,314.00"/>
<path stroke="#d40c14" d="M67.30,308.40C68.58,308.29 76.32,307.88 78.30,307.50C80.28,307.12 83.24,305.57 84.30,305.10C85.36,304.63 86.62,303.41 87.40,303.50C88.18,303.59 90.08,306.07 91.00,305.90C91.92,305.72 94.45,303.38 95.30,302.00C96.15,300.62 97.76,295.25 98.30,294.10C98.84,292.95 99.47,291.74 99.90,292.10C100.33,292.46 101.55,294.90 102.00,297.20C102.45,299.50 103.33,308.28 103.80,311.80C104.27,315.32 105.50,326.27 106.00,327.40C106.50,328.53 107.50,323.04 108.10,321.50C108.69,319.96 110.18,315.47 111.10,314.20C112.02,312.93 114.96,311.09 116.00,310.60C117.04,310.11 117.92,310.36 120.00,310.00C122.08,309.64 131.62,308.07 133.80,307.50C135.98,306.93 137.78,305.95 138.70,305.10C139.62,304.25 141.13,301.48 141.70,300.20C142.27,298.92 143.17,294.03 143.60,294.10C144.03,294.17 144.91,299.24 145.40,300.80C145.89,302.36 147.28,307.21 147.80,307.50C148.33,307.79 149.40,303.09 149.90,303.30C150.40,303.51 151.56,308.24 152.10,309.30C152.64,310.36 153.79,311.94 154.50,312.40C155.21,312.85 157.21,313.34 158.20,313.20C159.19,313.06 162.01,311.57 163.00,311.20C163.99,310.83 165.71,310.43 166.70,310.00C167.69,309.57 170.58,307.50 171.50,307.50C172.42,307.50 173.84,309.64 174.60,310.00C175.36,310.36 176.97,310.78 178.00,310.60C179.03,310.43 182.13,308.97 183.40,308.50C184.67,308.03 187.72,307.36 188.90,306.60C190.08,305.84 192.74,303.07 193.50,302.00C194.26,300.93 195.06,299.97 195.40,297.40C195.74,294.83 196.07,285.53 196.40,280.00C196.73,274.47 197.79,256.21 198.20,250.00C198.61,243.79 199.57,227.38 199.90,226.80C200.23,226.22 200.73,238.99 201.00,245.00C201.27,251.01 201.97,271.88 202.20,278.30C202.43,284.72 202.82,293.25 203.00,300.00C203.18,306.75 203.44,331.56 203.70,336.20C203.96,340.84 204.87,340.88 205.20,339.80C205.53,338.72 206.20,329.48 206.50,326.90C206.80,324.32 207.49,317.27 207.80,317.70C208.12,318.13 208.81,331.03 209.20,330.60C209.58,330.17 210.70,316.58 211.10,314.00C211.50,311.42 212.26,308.50 212.60,308.50C212.94,308.50 213.64,312.50 214.00,314.00C214.36,315.50 215.40,320.33 215.70,321.40C216.00,322.47 216.50,322.99 216.60,323.20"/>
</g>
<g clip-path="url(#clipe)" fill="none" stroke-width="1.8" stroke-linejoin="round" stroke-linecap="round">
<path stroke="#0d5fb0" d="M262.60,360.20C264.78,359.38 271.22,357.43 275.70,355.30C280.18,353.17 285.45,350.10 289.50,347.40C293.55,344.70 297.32,341.78 300.00,339.10C302.68,336.42 303.72,333.55 305.60,331.30C307.48,329.05 309.42,326.92 311.30,325.60C313.18,324.28 315.03,323.70 316.90,323.40C318.77,323.10 320.32,323.90 322.50,323.80C324.68,323.70 327.82,322.75 330.00,322.80C332.18,322.85 333.57,323.47 335.60,324.10C337.63,324.73 340.32,326.50 342.20,326.60C344.08,326.70 345.18,325.65 346.90,324.70C348.62,323.75 351.15,321.62 352.50,320.90C353.85,320.18 353.72,319.93 355.00,320.40C356.28,320.87 358.47,322.28 360.20,323.70C361.93,325.12 363.23,327.38 365.40,328.90C367.57,330.42 370.82,331.72 373.20,332.80C375.58,333.88 377.53,334.10 379.70,335.40C381.87,336.70 384.25,339.30 386.20,340.60C388.15,341.90 389.23,342.77 391.40,343.20C393.57,343.63 396.60,342.98 399.20,343.20C401.80,343.42 404.92,344.07 407.00,344.50C409.08,344.93 410.92,345.58 411.70,345.80"/>
<path stroke="#ff720c" d="M262.60,312.10C263.45,311.70 266.03,310.67 267.70,309.70C269.37,308.73 270.97,307.52 272.60,306.30C274.23,305.08 275.88,303.87 277.50,302.40C279.12,300.93 280.68,299.20 282.30,297.50C283.92,295.80 285.73,293.55 287.20,292.20C288.67,290.85 289.97,289.90 291.10,289.40C292.23,288.90 292.87,288.90 294.00,289.20C295.13,289.50 296.68,290.67 297.90,291.20C299.12,291.73 300.33,292.48 301.30,292.40C302.27,292.32 302.97,291.63 303.70,290.70C304.43,289.77 305.07,288.75 305.70,286.80C306.33,284.85 306.87,282.02 307.50,279.00C308.13,275.98 308.80,272.03 309.50,268.70C310.20,265.37 311.20,261.60 311.70,259.00C312.20,256.40 311.85,256.68 312.50,253.10C313.15,249.52 314.43,241.40 315.60,237.50C316.77,233.60 318.37,230.12 319.50,229.70C320.63,229.28 321.63,232.12 322.40,235.00C323.17,237.88 323.45,242.80 324.10,247.00C324.75,251.20 325.57,254.83 326.30,260.20C327.03,265.57 327.77,273.60 328.50,279.20C329.23,284.80 329.98,288.67 330.70,293.80C331.42,298.93 332.13,304.38 332.80,310.00C333.47,315.62 333.92,321.45 334.70,327.50C335.48,333.55 336.40,341.15 337.50,346.30C338.60,351.45 340.30,356.07 341.30,358.40C342.30,360.73 342.57,360.77 343.50,360.30C344.43,359.83 345.72,358.25 346.90,355.60C348.08,352.95 349.35,347.52 350.60,344.40C351.85,341.28 353.15,338.53 354.40,336.90C355.65,335.27 357.13,335.07 358.10,334.60C359.07,334.13 358.98,335.27 360.20,334.10C361.42,332.93 363.67,330.42 365.40,327.60C367.13,324.78 368.87,320.02 370.60,317.20C372.33,314.38 374.28,312.00 375.80,310.70C377.32,309.40 378.40,308.75 379.70,309.40C381.00,310.05 382.08,312.43 383.60,314.60C385.12,316.77 387.50,320.88 388.80,322.40C390.10,323.92 390.10,324.13 391.40,323.70C392.70,323.27 394.65,321.22 396.60,319.80C398.55,318.38 401.37,316.15 403.10,315.20C404.83,314.25 405.57,313.98 407.00,314.10C408.43,314.22 410.92,315.60 411.70,315.90"/>
<path stroke="#18901c" d="M262.60,312.60C264.27,312.27 269.32,311.20 272.60,310.60C275.88,310.00 279.55,309.48 282.30,309.00C285.05,308.52 286.67,307.92 289.10,307.70C291.53,307.48 295.08,307.70 296.90,307.70C298.72,307.70 298.52,307.95 300.00,307.70C301.48,307.45 303.85,307.05 305.80,306.20C307.75,305.35 309.98,303.93 311.70,302.60C313.42,301.27 314.65,300.15 316.10,298.20C317.55,296.25 319.18,293.58 320.40,290.90C321.62,288.22 322.55,285.27 323.40,282.10C324.25,278.93 324.78,275.55 325.50,271.90C326.22,268.25 326.95,263.90 327.70,260.20C328.45,256.50 329.37,253.15 330.00,249.70C330.63,246.25 330.90,242.65 331.50,239.50C332.10,236.35 332.75,232.80 333.60,230.80C334.45,228.80 335.62,227.50 336.60,227.50C337.58,227.50 338.65,229.03 339.50,230.80C340.35,232.57 340.97,234.95 341.70,238.10C342.43,241.25 343.17,246.05 343.90,249.70C344.63,253.35 345.25,256.58 346.10,260.00C346.95,263.42 347.92,266.53 349.00,270.20C350.08,273.87 351.60,279.12 352.60,282.00C353.60,284.88 354.30,286.00 355.00,287.50C355.70,289.00 356.15,289.52 356.80,291.00C357.45,292.48 357.90,292.47 358.90,296.40C359.90,300.33 361.50,308.53 362.80,314.60C364.10,320.67 365.32,328.03 366.70,332.80C368.08,337.57 369.58,342.33 371.10,343.20C372.62,344.07 374.15,340.17 375.80,338.00C377.45,335.83 379.48,331.83 381.00,330.20C382.52,328.57 383.38,327.98 384.90,328.20C386.42,328.42 388.67,330.73 390.10,331.50C391.53,332.27 391.98,333.45 393.50,332.80C395.02,332.15 397.17,329.98 399.20,327.60C401.23,325.22 403.62,321.10 405.70,318.50C407.78,315.90 410.70,313.08 411.70,312.00"/>
<path stroke="#d40c14" d="M262.60,312.90C264.27,312.68 269.32,312.02 272.60,311.60C275.88,311.18 279.07,310.72 282.30,310.40C285.53,310.08 289.05,309.92 292.00,309.70C294.95,309.48 297.20,309.43 300.00,309.10C302.80,308.77 305.88,308.55 308.80,307.70C311.72,306.85 314.83,305.47 317.50,304.00C320.17,302.53 322.60,300.72 324.80,298.90C327.00,297.08 328.98,295.58 330.70,293.10C332.42,290.62 333.88,287.58 335.10,284.00C336.32,280.42 337.02,275.60 338.00,271.60C338.98,267.60 340.02,263.65 341.00,260.00C341.98,256.35 342.93,253.35 343.90,249.70C344.87,246.05 345.83,241.25 346.80,238.10C347.77,234.95 348.73,232.63 349.70,230.80C350.67,228.97 351.63,227.10 352.60,227.10C353.57,227.10 354.65,228.73 355.50,230.80C356.35,232.87 357.08,236.10 357.70,239.50C358.32,242.90 358.70,246.82 359.20,251.20C359.70,255.58 360.22,260.67 360.70,265.80C361.18,270.93 361.53,273.00 362.10,282.00C362.67,291.00 363.33,309.60 364.10,319.80C364.87,330.00 365.70,338.00 366.70,343.20C367.70,348.40 369.02,351.87 370.10,351.00C371.18,350.13 372.03,344.07 373.20,338.00C374.37,331.93 375.88,319.58 377.10,314.60C378.32,309.62 379.42,307.67 380.50,308.10C381.58,308.53 382.43,313.08 383.60,317.20C384.77,321.32 386.12,328.47 387.50,332.80C388.88,337.13 390.38,342.77 391.90,343.20C393.42,343.63 394.95,339.08 396.60,335.40C398.25,331.72 400.07,324.57 401.80,321.10C403.53,317.63 405.35,316.55 407.00,314.60C408.65,312.65 410.92,310.27 411.70,309.40"/>
</g>
<g clip-path="url(#clipf)" fill="none" stroke-width="1.8" stroke-linejoin="round" stroke-linecap="round">
<path stroke="#0d5fb0" d="M458.70,277.30C459.10,276.66 460.98,272.74 461.70,272.50C462.42,272.26 463.53,274.94 464.10,275.50C464.67,276.06 465.35,277.10 466.00,276.70C466.65,276.30 468.20,272.74 469.00,272.50C469.80,272.26 471.19,274.10 472.00,274.90C472.81,275.70 474.37,277.45 475.10,278.50C475.83,279.55 476.94,282.47 477.50,282.80C478.06,283.13 478.69,281.33 479.30,281.00C479.91,280.67 481.19,280.82 482.10,280.30C483.01,279.78 485.26,277.89 486.10,277.10C486.94,276.31 487.77,274.51 488.40,274.40C489.03,274.29 490.16,275.42 490.80,276.30C491.44,277.18 492.57,280.68 493.20,281.00C493.83,281.32 494.77,279.43 495.50,278.70C496.23,277.97 497.61,275.99 498.70,275.50C499.79,275.01 502.45,275.07 503.70,275.00C504.95,274.93 507.03,275.11 508.10,275.00C509.17,274.89 510.73,274.60 511.70,274.20C512.67,273.80 514.52,272.19 515.40,272.00C516.28,271.81 517.69,272.97 518.30,272.80C518.91,272.63 519.45,270.66 520.00,270.70C520.55,270.74 521.75,271.65 522.40,273.10C523.05,274.55 524.33,279.00 524.90,281.60C525.47,284.20 526.26,287.83 526.70,292.60C527.14,297.37 527.76,310.93 528.20,317.40C528.64,323.87 529.59,336.61 530.00,341.10C530.41,345.59 530.93,351.10 531.30,351.10C531.67,351.10 532.36,345.59 532.80,341.10C533.24,336.61 534.28,322.88 534.60,317.40C534.92,311.92 534.96,304.12 535.20,300.00C535.44,295.88 536.08,290.74 536.40,286.50C536.72,282.26 537.27,272.09 537.60,268.20C537.93,264.31 538.49,259.07 538.90,257.30C539.31,255.53 540.22,255.06 540.70,254.90C541.18,254.74 542.02,255.81 542.50,256.10C542.98,256.39 543.81,257.18 544.30,257.10C544.79,257.02 545.63,255.71 546.20,255.50C546.77,255.29 548.04,255.10 548.60,255.50C549.16,255.90 549.92,257.13 550.40,258.50C550.88,259.87 551.71,263.69 552.20,265.80C552.69,267.91 553.61,272.43 554.10,274.30C554.59,276.17 555.42,278.91 555.90,279.80C556.38,280.69 557.14,281.32 557.70,281.00C558.26,280.68 559.53,278.53 560.10,277.40C560.67,276.27 561.35,273.15 562.00,272.50C562.65,271.85 564.31,273.10 565.00,272.50C565.69,271.90 566.65,268.79 567.20,268.00C567.75,267.21 568.62,266.40 569.10,266.60C569.58,266.80 570.28,267.46 570.80,269.50C571.32,271.54 572.41,278.49 573.00,281.90C573.59,285.31 574.67,292.75 575.20,295.10C575.73,297.45 576.51,299.31 577.00,299.50C577.49,299.69 578.35,297.87 578.90,296.50C579.45,295.13 580.46,291.19 581.10,289.20C581.74,287.21 583.11,282.16 583.70,281.60C584.29,281.04 585.07,282.95 585.50,285.00C585.93,287.05 586.39,292.80 586.90,297.00C587.41,301.20 588.82,315.37 589.30,316.50C589.78,317.63 590.17,308.59 590.50,305.50C590.83,302.41 591.31,297.37 591.80,293.30C592.29,289.23 593.59,277.88 594.20,275.00C594.81,272.12 595.81,272.93 596.40,271.70C596.99,270.47 598.08,266.75 598.60,265.80C599.12,264.85 599.81,264.79 600.30,264.60C600.79,264.41 601.74,264.04 602.30,264.40C602.86,264.76 603.82,265.94 604.50,267.30C605.18,268.66 607.01,273.63 607.40,274.60"/>
<path stroke="#ff720c" d="M458.70,278.20C459.26,278.41 461.93,279.11 462.90,279.80C463.87,280.49 465.27,282.27 466.00,283.40C466.73,284.53 467.84,287.41 468.40,288.30C468.96,289.19 469.72,290.27 470.20,290.10C470.68,289.93 471.51,288.13 472.00,287.00C472.49,285.87 473.49,283.05 473.90,281.60C474.31,280.15 474.79,276.31 475.10,276.10C475.41,275.89 475.96,278.63 476.20,280.00C476.44,281.37 476.69,283.52 476.90,286.40C477.11,289.28 477.53,297.05 477.80,301.60C478.07,306.15 478.54,316.29 478.90,320.50C479.26,324.71 480.07,333.61 480.50,333.20C480.93,332.79 481.67,322.67 482.10,317.40C482.53,312.13 483.34,299.18 483.70,293.70C484.06,288.22 484.56,280.61 484.80,276.30C485.04,271.99 485.21,265.49 485.50,261.40C485.79,257.31 486.64,248.16 487.00,245.60C487.36,243.04 487.88,242.36 488.20,242.20C488.52,242.04 489.08,242.64 489.40,244.40C489.72,246.16 490.19,252.16 490.60,255.40C491.01,258.64 492.09,266.27 492.50,268.70C492.91,271.13 493.38,273.19 493.70,273.60C494.02,274.01 494.65,272.35 494.90,271.80C495.15,271.25 495.29,269.66 495.60,269.50C495.91,269.34 496.73,269.09 497.20,270.60C497.67,272.11 498.66,278.67 499.10,280.80C499.54,282.93 500.11,286.60 500.50,286.60C500.89,286.60 501.57,282.55 502.00,280.80C502.43,279.05 503.23,274.86 503.70,273.50C504.17,272.14 504.91,270.69 505.50,270.60C506.09,270.51 507.37,271.83 508.10,272.80C508.83,273.77 510.23,277.03 511.00,277.90C511.77,278.77 513.13,279.59 513.90,279.30C514.67,279.01 516.01,275.74 516.80,275.70C517.59,275.66 519.01,278.43 519.80,279.00C520.59,279.57 522.01,279.96 522.70,280.00C523.39,280.04 524.07,279.01 525.00,279.30C525.93,279.59 528.58,281.81 529.70,282.20C530.82,282.59 532.27,282.76 533.40,282.20C534.53,281.64 536.91,278.64 538.20,278.00C539.49,277.36 541.87,277.64 543.10,277.40C544.33,277.16 546.27,276.20 547.40,276.20C548.53,276.20 550.39,277.08 551.60,277.40C552.81,277.72 555.19,278.28 556.50,278.60C557.81,278.92 560.27,279.51 561.40,279.80C562.53,280.09 564.23,280.81 565.00,280.80C565.77,280.79 566.79,279.43 567.20,279.70C567.61,279.97 567.81,281.53 568.10,282.80C568.39,284.07 569.04,286.39 569.40,289.20C569.76,292.01 570.57,299.25 570.80,303.90C571.03,308.55 570.91,319.79 571.10,324.10C571.29,328.41 571.84,336.20 572.20,336.20C572.56,336.20 573.39,328.41 573.80,324.10C574.21,319.79 574.82,310.50 575.30,303.90C575.78,297.30 576.99,280.65 577.40,274.60C577.81,268.55 578.08,262.27 578.40,258.50C578.72,254.73 579.48,248.33 579.80,246.30C580.12,244.27 580.51,243.38 580.80,243.30C581.09,243.22 581.68,244.17 582.00,245.70C582.32,247.23 582.79,252.28 583.20,254.80C583.61,257.32 584.69,262.31 585.10,264.60C585.51,266.89 586.06,270.47 586.30,272.00C586.54,273.53 586.50,273.75 586.90,276.10C587.30,278.45 588.65,286.01 589.30,289.60C589.95,293.19 591.31,300.72 591.80,303.00C592.29,305.28 592.64,307.10 593.00,306.70C593.36,306.30 594.10,302.60 594.50,300.00C594.90,297.40 595.64,290.53 596.00,287.20C596.36,283.87 596.89,277.45 597.20,275.00C597.51,272.55 598.01,266.91 598.30,268.80C598.59,270.69 599.13,285.04 599.40,289.20C599.67,293.36 600.06,297.16 600.30,300.00C600.54,302.84 600.87,310.07 601.20,310.50C601.53,310.93 602.47,307.01 602.80,303.20C603.13,299.39 603.55,286.06 603.70,281.90C603.85,277.74 603.71,275.59 603.90,272.00C604.09,268.41 604.69,259.56 605.10,255.00C605.51,250.44 606.75,240.09 607.00,237.80"/>
<path stroke="#18901c" d="M458.70,279.80C459.42,279.68 462.57,278.90 464.10,278.90C465.63,278.90 468.57,279.85 470.20,279.80C471.83,279.75 475.03,278.65 476.30,278.50C477.57,278.35 479.05,278.10 479.70,278.70C480.35,279.30 480.77,279.95 481.20,283.00C481.63,286.05 482.46,296.39 482.90,301.60C483.34,306.81 484.13,318.83 484.50,322.10C484.87,325.37 485.33,326.73 485.70,326.10C486.07,325.47 486.87,321.09 487.30,317.40C487.73,313.71 488.43,302.61 488.90,298.40C489.37,294.19 490.32,287.45 490.80,285.80C491.28,284.15 492.13,285.79 492.50,286.00C492.87,286.21 493.31,287.43 493.60,287.40C493.89,287.37 494.41,287.07 494.70,285.80C494.99,284.53 495.48,280.67 495.80,277.90C496.12,275.13 496.82,268.21 497.10,265.00C497.38,261.79 497.59,254.23 497.90,253.80C498.21,253.37 499.05,258.59 499.40,261.80C499.75,265.01 500.21,274.98 500.50,277.90C500.79,280.82 501.27,283.90 501.60,283.70C501.93,283.50 502.61,278.35 503.00,276.40C503.39,274.45 504.11,270.17 504.50,269.10C504.89,268.03 505.51,267.61 505.90,268.40C506.29,269.19 506.91,273.45 507.40,275.00C507.89,276.55 509.03,279.23 509.60,280.00C510.17,280.77 511.13,280.99 511.70,280.80C512.27,280.61 513.22,279.37 513.90,278.60C514.58,277.83 516.01,276.36 516.80,275.00C517.59,273.64 519.12,268.99 519.80,268.40C520.48,267.81 521.21,269.53 521.90,270.60C522.59,271.67 524.12,274.77 525.00,276.40C525.88,278.03 527.62,281.69 528.50,282.80C529.38,283.91 530.79,284.86 531.60,284.70C532.41,284.54 533.72,282.57 534.60,281.60C535.48,280.63 537.15,277.96 538.20,277.40C539.25,276.84 541.43,277.73 542.50,277.40C543.57,277.07 545.31,275.55 546.20,274.90C547.09,274.25 548.40,272.42 549.20,272.50C550.00,272.58 551.39,274.77 552.20,275.50C553.01,276.23 554.41,277.51 555.30,278.00C556.19,278.49 557.93,279.28 558.90,279.20C559.87,279.12 561.79,278.09 562.60,277.40C563.41,276.71 564.09,274.08 565.00,274.00C565.91,273.92 568.23,275.35 569.40,276.80C570.57,278.25 572.73,283.05 573.80,284.90C574.87,286.75 576.63,290.13 577.40,290.70C578.17,291.27 579.01,289.88 579.60,289.20C580.19,288.52 581.24,286.68 581.80,285.60C582.36,284.52 583.28,280.89 583.80,281.10C584.32,281.31 585.29,284.76 585.70,287.20C586.11,289.64 586.61,295.33 586.90,299.40C587.19,303.47 587.57,311.19 587.90,317.70C588.23,324.21 589.09,342.52 589.40,348.20C589.71,353.88 589.99,360.30 590.20,360.30C590.41,360.30 590.72,353.03 591.00,348.20C591.28,343.37 591.91,329.89 592.30,324.10C592.69,318.31 593.51,306.47 593.90,304.80C594.29,303.13 594.87,312.24 595.20,311.60C595.53,310.96 596.03,302.61 596.40,300.00C596.77,297.39 597.51,293.83 598.00,292.00C598.49,290.17 599.63,287.45 600.10,286.30C600.57,285.15 601.02,285.35 601.50,283.40C601.98,281.45 603.22,275.83 603.70,271.70C604.18,267.57 604.74,257.40 605.10,252.40C605.46,247.40 606.15,237.60 606.40,234.20C606.65,230.80 606.92,227.87 607.00,226.90"/>
<path stroke="#d40c14" d="M458.70,281.30C459.26,281.02 461.69,279.40 462.90,279.20C464.11,279.00 466.51,279.64 467.80,279.80C469.09,279.96 471.31,280.24 472.60,280.40C473.89,280.56 476.34,280.81 477.50,281.00C478.66,281.19 480.26,281.27 481.30,281.80C482.34,282.33 484.46,283.00 485.30,285.00C486.14,287.00 486.97,292.91 487.60,296.80C488.23,300.69 489.40,310.20 490.00,314.20C490.60,318.20 491.67,324.48 492.10,326.80C492.53,329.12 492.91,331.80 493.20,331.60C493.49,331.40 493.99,329.30 494.30,325.30C494.61,321.30 495.17,307.92 495.50,301.60C495.83,295.28 496.56,284.78 496.80,277.90C497.04,271.02 497.11,256.57 497.30,250.00C497.49,243.43 498.00,228.60 498.20,228.60C498.40,228.60 498.63,245.15 498.80,250.00C498.97,254.85 499.33,259.92 499.50,265.00C499.67,270.08 499.82,283.95 500.10,288.10C500.38,292.25 501.21,296.69 501.60,296.10C501.99,295.51 502.61,288.27 503.00,283.70C503.39,279.13 504.17,265.49 504.50,261.80C504.83,258.11 505.18,255.80 505.50,256.00C505.82,256.20 506.51,260.97 506.90,263.30C507.29,265.63 507.95,271.37 508.40,273.50C508.85,275.63 509.86,278.33 510.30,279.30C510.74,280.27 511.02,281.19 511.70,280.80C512.38,280.41 514.43,277.37 515.40,276.40C516.37,275.43 518.13,274.09 519.00,273.50C519.87,272.91 521.03,271.56 521.90,272.00C522.77,272.44 524.62,275.60 525.50,276.80C526.38,278.00 527.69,280.16 528.50,281.00C529.31,281.84 530.79,283.10 531.60,283.10C532.41,283.10 533.72,281.68 534.60,281.00C535.48,280.32 537.15,278.48 538.20,278.00C539.25,277.52 541.53,277.48 542.50,277.40C543.47,277.32 544.77,277.73 545.50,277.40C546.23,277.07 547.43,274.58 548.00,274.90C548.57,275.22 549.33,279.25 549.80,279.80C550.27,280.35 550.93,279.57 551.50,279.00C552.07,278.43 553.43,275.63 554.10,275.50C554.77,275.37 555.86,277.75 556.50,278.00C557.14,278.25 558.25,277.81 558.90,277.40C559.55,276.99 560.59,275.15 561.40,274.90C562.21,274.65 564.03,275.43 565.00,275.50C565.97,275.57 567.73,274.93 568.70,275.40C569.67,275.87 571.23,277.84 572.30,279.00C573.37,280.16 575.53,283.13 576.70,284.10C577.87,285.07 580.13,285.85 581.10,286.30C582.07,286.75 583.23,286.41 584.00,287.50C584.77,288.59 586.27,292.10 586.90,294.50C587.53,296.90 588.22,302.41 588.70,305.50C589.18,308.59 590.02,314.14 590.50,317.70C590.98,321.26 591.89,327.71 592.30,332.20C592.71,336.69 593.32,348.40 593.60,351.40C593.88,354.40 594.15,356.19 594.40,354.70C594.65,353.21 595.18,345.35 595.50,340.20C595.82,335.05 596.52,323.46 596.80,316.10C597.08,308.74 597.40,290.53 597.60,285.00C597.80,279.47 598.10,278.13 598.30,274.60C598.50,271.07 598.87,259.11 599.10,258.50C599.33,257.89 599.77,267.85 600.00,270.00C600.23,272.15 600.49,271.25 600.80,274.60C601.11,277.95 601.94,293.05 602.30,295.10C602.66,297.15 603.21,291.76 603.50,290.00C603.79,288.24 604.07,285.13 604.50,281.90C604.93,278.67 606.37,268.11 606.70,265.80C607.03,263.49 606.96,264.76 607.00,264.60"/>
</g>
<rect x="60.50" y="44.10" width="162.40" height="147.00" fill="none" stroke="#262626" stroke-width="1.1"/>
<line x1="56.90" y1="44.10" x2="60.50" y2="44.10" stroke="#262626" stroke-width="1.1"/>
<text x="53.10" y="48.30" font-size="10" text-anchor="end" textLength="15.0" lengthAdjust="spacingAndGlyphs">0.6</text>
<line x1="56.90" y1="80.90" x2="60.50" y2="80.90" stroke="#262626" stroke-width="1.1"/>
<text x="53.10" y="85.10" font-size="10" text-anchor="end" textLength="15.0" lengthAdjust="spacingAndGlyphs">0.5</text>
<line x1="56.90" y1="117.70" x2="60.50" y2="117.70" stroke="#262626" stroke-width="1.1"/>
<text x="53.10" y="121.90" font-size="10" text-anchor="end" textLength="15.0" lengthAdjust="spacingAndGlyphs">0.4</text>
<line x1="56.90" y1="154.50" x2="60.50" y2="154.50" stroke="#262626" stroke-width="1.1"/>
<text x="53.10" y="158.70" font-size="10" text-anchor="end" textLength="15.0" lengthAdjust="spacingAndGlyphs">0.3</text>
<line x1="56.90" y1="191.20" x2="60.50" y2="191.20" stroke="#262626" stroke-width="1.1"/>
<text x="53.10" y="195.40" font-size="10" text-anchor="end" textLength="15.0" lengthAdjust="spacingAndGlyphs">0.2</text>
<line x1="67.80" y1="191.10" x2="67.80" y2="194.70" stroke="#262626" stroke-width="1.1"/>
<text x="67.80" y="206.20" font-size="10" text-anchor="middle" textLength="30.1" lengthAdjust="spacingAndGlyphs">12000</text>
<line x1="104.90" y1="191.10" x2="104.90" y2="194.70" stroke="#262626" stroke-width="1.1"/>
<text x="104.90" y="206.20" font-size="10" text-anchor="middle" textLength="30.1" lengthAdjust="spacingAndGlyphs">10000</text>
<line x1="142.10" y1="191.10" x2="142.10" y2="194.70" stroke="#262626" stroke-width="1.1"/>
<text x="142.10" y="206.20" font-size="10" text-anchor="middle" textLength="24.1" lengthAdjust="spacingAndGlyphs">8000</text>
<line x1="179.20" y1="191.10" x2="179.20" y2="194.70" stroke="#262626" stroke-width="1.1"/>
<text x="179.20" y="206.20" font-size="10" text-anchor="middle" textLength="24.1" lengthAdjust="spacingAndGlyphs">6000</text>
<line x1="216.30" y1="191.10" x2="216.30" y2="194.70" stroke="#262626" stroke-width="1.1"/>
<text x="216.30" y="206.20" font-size="10" text-anchor="middle" textLength="24.1" lengthAdjust="spacingAndGlyphs">4000</text>
<rect x="255.70" y="44.10" width="163.10" height="147.00" fill="none" stroke="#262626" stroke-width="1.1"/>
<line x1="252.10" y1="44.10" x2="255.70" y2="44.10" stroke="#262626" stroke-width="1.1"/>
<line x1="252.10" y1="80.90" x2="255.70" y2="80.90" stroke="#262626" stroke-width="1.1"/>
<line x1="252.10" y1="117.70" x2="255.70" y2="117.70" stroke="#262626" stroke-width="1.1"/>
<line x1="252.10" y1="154.50" x2="255.70" y2="154.50" stroke="#262626" stroke-width="1.1"/>
<line x1="252.10" y1="191.20" x2="255.70" y2="191.20" stroke="#262626" stroke-width="1.1"/>
<line x1="257.80" y1="191.10" x2="257.80" y2="194.70" stroke="#262626" stroke-width="1.1"/>
<text x="257.80" y="206.20" font-size="10" text-anchor="middle" textLength="24.1" lengthAdjust="spacingAndGlyphs">6500</text>
<line x1="313.80" y1="191.10" x2="313.80" y2="194.70" stroke="#262626" stroke-width="1.1"/>
<text x="313.80" y="206.20" font-size="10" text-anchor="middle" textLength="24.1" lengthAdjust="spacingAndGlyphs">6000</text>
<line x1="369.80" y1="191.10" x2="369.80" y2="194.70" stroke="#262626" stroke-width="1.1"/>
<text x="369.80" y="206.20" font-size="10" text-anchor="middle" textLength="24.1" lengthAdjust="spacingAndGlyphs">5500</text>
<rect x="451.50" y="44.10" width="162.80" height="147.00" fill="none" stroke="#262626" stroke-width="1.1"/>
<line x1="447.90" y1="44.10" x2="451.50" y2="44.10" stroke="#262626" stroke-width="1.1"/>
<line x1="447.90" y1="80.90" x2="451.50" y2="80.90" stroke="#262626" stroke-width="1.1"/>
<line x1="447.90" y1="117.70" x2="451.50" y2="117.70" stroke="#262626" stroke-width="1.1"/>
<line x1="447.90" y1="154.50" x2="451.50" y2="154.50" stroke="#262626" stroke-width="1.1"/>
<line x1="447.90" y1="191.20" x2="451.50" y2="191.20" stroke="#262626" stroke-width="1.1"/>
<line x1="485.80" y1="191.10" x2="485.80" y2="194.70" stroke="#262626" stroke-width="1.1"/>
<text x="485.80" y="206.20" font-size="10" text-anchor="middle" textLength="24.1" lengthAdjust="spacingAndGlyphs">7000</text>
<line x1="525.00" y1="191.10" x2="525.00" y2="194.70" stroke="#262626" stroke-width="1.1"/>
<text x="525.00" y="206.20" font-size="10" text-anchor="middle" textLength="24.1" lengthAdjust="spacingAndGlyphs">6000</text>
<line x1="564.40" y1="191.10" x2="564.40" y2="194.70" stroke="#262626" stroke-width="1.1"/>
<text x="564.40" y="206.20" font-size="10" text-anchor="middle" textLength="24.1" lengthAdjust="spacingAndGlyphs">5000</text>
<line x1="603.60" y1="191.10" x2="603.60" y2="194.70" stroke="#262626" stroke-width="1.1"/>
<text x="603.60" y="206.20" font-size="10" text-anchor="middle" textLength="24.1" lengthAdjust="spacingAndGlyphs">4000</text>
<rect x="60.50" y="220.80" width="162.40" height="146.20" fill="none" stroke="#262626" stroke-width="1.1"/>
<line x1="56.90" y1="223.70" x2="60.50" y2="223.70" stroke="#262626" stroke-width="1.1"/>
<text x="53.10" y="227.90" font-size="10" text-anchor="end" textLength="15.0" lengthAdjust="spacingAndGlyphs">0.2</text>
<line x1="56.90" y1="264.50" x2="60.50" y2="264.50" stroke="#262626" stroke-width="1.1"/>
<text x="53.10" y="268.70" font-size="10" text-anchor="end" textLength="15.0" lengthAdjust="spacingAndGlyphs">0.1</text>
<line x1="56.90" y1="305.10" x2="60.50" y2="305.10" stroke="#262626" stroke-width="1.1"/>
<text x="53.10" y="309.30" font-size="10" text-anchor="end" textLength="15.0" lengthAdjust="spacingAndGlyphs">0.0</text>
<line x1="56.90" y1="345.90" x2="60.50" y2="345.90" stroke="#262626" stroke-width="1.1"/>
<text x="53.10" y="350.10" font-size="10" text-anchor="end" textLength="22.9" lengthAdjust="spacingAndGlyphs">−0.1</text>
<line x1="71.90" y1="367.00" x2="71.90" y2="370.60" stroke="#262626" stroke-width="1.1"/>
<text x="71.90" y="382.10" font-size="10" text-anchor="middle" textLength="24.1" lengthAdjust="spacingAndGlyphs">9000</text>
<line x1="112.50" y1="367.00" x2="112.50" y2="370.60" stroke="#262626" stroke-width="1.1"/>
<text x="112.50" y="382.10" font-size="10" text-anchor="middle" textLength="24.1" lengthAdjust="spacingAndGlyphs">8000</text>
<line x1="153.30" y1="367.00" x2="153.30" y2="370.60" stroke="#262626" stroke-width="1.1"/>
<text x="153.30" y="382.10" font-size="10" text-anchor="middle" textLength="24.1" lengthAdjust="spacingAndGlyphs">7000</text>
<line x1="193.90" y1="367.00" x2="193.90" y2="370.60" stroke="#262626" stroke-width="1.1"/>
<text x="193.90" y="382.10" font-size="10" text-anchor="middle" textLength="24.1" lengthAdjust="spacingAndGlyphs">6000</text>
<rect x="255.70" y="220.80" width="162.90" height="146.00" fill="none" stroke="#262626" stroke-width="1.1"/>
<line x1="252.10" y1="242.80" x2="255.70" y2="242.80" stroke="#262626" stroke-width="1.1"/>
<text x="248.30" y="247.00" font-size="10" text-anchor="end" textLength="15.0" lengthAdjust="spacingAndGlyphs">0.3</text>
<line x1="252.10" y1="264.80" x2="255.70" y2="264.80" stroke="#262626" stroke-width="1.1"/>
<text x="248.30" y="269.00" font-size="10" text-anchor="end" textLength="15.0" lengthAdjust="spacingAndGlyphs">0.2</text>
<line x1="252.10" y1="287.00" x2="255.70" y2="287.00" stroke="#262626" stroke-width="1.1"/>
<text x="248.30" y="291.20" font-size="10" text-anchor="end" textLength="15.0" lengthAdjust="spacingAndGlyphs">0.1</text>
<line x1="252.10" y1="309.00" x2="255.70" y2="309.00" stroke="#262626" stroke-width="1.1"/>
<text x="248.30" y="313.20" font-size="10" text-anchor="end" textLength="15.0" lengthAdjust="spacingAndGlyphs">0.0</text>
<line x1="252.10" y1="331.20" x2="255.70" y2="331.20" stroke="#262626" stroke-width="1.1"/>
<text x="248.30" y="335.40" font-size="10" text-anchor="end" textLength="22.9" lengthAdjust="spacingAndGlyphs">−0.1</text>
<line x1="252.10" y1="353.30" x2="255.70" y2="353.30" stroke="#262626" stroke-width="1.1"/>
<text x="248.30" y="357.50" font-size="10" text-anchor="end" textLength="22.9" lengthAdjust="spacingAndGlyphs">−0.2</text>
<line x1="280.60" y1="366.80" x2="280.60" y2="370.40" stroke="#262626" stroke-width="1.1"/>
<text x="280.60" y="381.90" font-size="10" text-anchor="middle" textLength="24.1" lengthAdjust="spacingAndGlyphs">6200</text>
<line x1="320.00" y1="366.80" x2="320.00" y2="370.40" stroke="#262626" stroke-width="1.1"/>
<text x="320.00" y="381.90" font-size="10" text-anchor="middle" textLength="24.1" lengthAdjust="spacingAndGlyphs">6000</text>
<line x1="359.40" y1="366.80" x2="359.40" y2="370.40" stroke="#262626" stroke-width="1.1"/>
<text x="359.40" y="381.90" font-size="10" text-anchor="middle" textLength="24.1" lengthAdjust="spacingAndGlyphs">5800</text>
<line x1="398.80" y1="366.80" x2="398.80" y2="370.40" stroke="#262626" stroke-width="1.1"/>
<text x="398.80" y="381.90" font-size="10" text-anchor="middle" textLength="24.1" lengthAdjust="spacingAndGlyphs">5600</text>
<rect x="451.50" y="220.80" width="162.80" height="146.00" fill="none" stroke="#262626" stroke-width="1.1"/>
<line x1="447.90" y1="245.70" x2="451.50" y2="245.70" stroke="#262626" stroke-width="1.1"/>
<text x="444.10" y="249.90" font-size="10" text-anchor="end" textLength="15.0" lengthAdjust="spacingAndGlyphs">0.1</text>
<line x1="447.90" y1="279.80" x2="451.50" y2="279.80" stroke="#262626" stroke-width="1.1"/>
<text x="444.10" y="284.00" font-size="10" text-anchor="end" textLength="15.0" lengthAdjust="spacingAndGlyphs">0.0</text>
<line x1="447.90" y1="313.90" x2="451.50" y2="313.90" stroke="#262626" stroke-width="1.1"/>
<text x="444.10" y="318.10" font-size="10" text-anchor="end" textLength="22.9" lengthAdjust="spacingAndGlyphs">−0.1</text>
<line x1="447.90" y1="347.80" x2="451.50" y2="347.80" stroke="#262626" stroke-width="1.1"/>
<text x="444.10" y="352.00" font-size="10" text-anchor="end" textLength="22.9" lengthAdjust="spacingAndGlyphs">−0.2</text>
<line x1="480.40" y1="366.80" x2="480.40" y2="370.40" stroke="#262626" stroke-width="1.1"/>
<text x="480.40" y="381.90" font-size="10" text-anchor="middle" textLength="24.1" lengthAdjust="spacingAndGlyphs">6000</text>
<line x1="515.50" y1="366.80" x2="515.50" y2="370.40" stroke="#262626" stroke-width="1.1"/>
<text x="515.50" y="381.90" font-size="10" text-anchor="middle" textLength="24.1" lengthAdjust="spacingAndGlyphs">5500</text>
<line x1="550.40" y1="366.80" x2="550.40" y2="370.40" stroke="#262626" stroke-width="1.1"/>
<text x="550.40" y="381.90" font-size="10" text-anchor="middle" textLength="24.1" lengthAdjust="spacingAndGlyphs">5000</text>
<line x1="585.80" y1="366.80" x2="585.80" y2="370.40" stroke="#262626" stroke-width="1.1"/>
<text x="585.80" y="381.90" font-size="10" text-anchor="middle" textLength="24.1" lengthAdjust="spacingAndGlyphs">4500</text>
<text x="67.8" y="57.5" font-size="14.5" style="stroke-width:0" textLength="19.8" lengthAdjust="spacingAndGlyphs">(a)</text>
<text x="264.7" y="57.5" font-size="14.5" style="stroke-width:0" textLength="20.1" lengthAdjust="spacingAndGlyphs">(b)</text>
<text x="459.0" y="57.5" font-size="14.5" style="stroke-width:0" textLength="18.9" lengthAdjust="spacingAndGlyphs">(c)</text>
<text x="67.8" y="239.4" font-size="14.5" style="stroke-width:0" textLength="20.2" lengthAdjust="spacingAndGlyphs">(d)</text>
<text x="265.0" y="239.4" font-size="14.5" style="stroke-width:0" textLength="20.2" lengthAdjust="spacingAndGlyphs">(e)</text>
<text x="458.9" y="239.4" font-size="14.5" style="stroke-width:0" textLength="17.6" lengthAdjust="spacingAndGlyphs">(f)</text>
<text x="108.0" y="37.1" font-size="13.2" textLength="52.7" lengthAdjust="spacingAndGlyphs">Matrix-F</text>
<text x="301.9" y="37.1" font-size="13.2" textLength="50.4" lengthAdjust="spacingAndGlyphs">NIRONE</text>
<text x="501.0" y="37.1" font-size="13.2" textLength="73.0" lengthAdjust="spacingAndGlyphs">NeoSpectra</text>
<text x="80.4" y="408" font-size="12.4" textLength="114.4" lengthAdjust="spacingAndGlyphs">Wavenumbers / cm</text>
<text x="196.0" y="403.6" font-size="9">-1</text>
<text x="276.0" y="408" font-size="12.4" textLength="114.1" lengthAdjust="spacingAndGlyphs">Wavenumbers / cm</text>
<text x="391.3" y="403.6" font-size="9">-1</text>
<text x="471.3" y="408" font-size="12.4" textLength="114.1" lengthAdjust="spacingAndGlyphs">Wavenumbers / cm</text>
<text x="586.6" y="403.6" font-size="9">-1</text>
<text transform="translate(11.7,142.3) rotate(-90)" font-size="12.6" textLength="49.9" lengthAdjust="spacingAndGlyphs">Log(1/R)</text>
<text transform="translate(11.7,356.6) rotate(-90)" font-size="12.6" textLength="129.6" lengthAdjust="spacingAndGlyphs">norm(deriv(Log(1/R)))</text>
<line x1="59.9" y1="6.0" x2="81.8" y2="6.0" stroke="#1a6db4" stroke-width="1.5"/>
<text x="88.6" y="10.7" font-size="12.8" textLength="47.4" lengthAdjust="spacingAndGlyphs">Matrix C</text>
<line x1="162.7" y1="6.0" x2="183.8" y2="6.0" stroke="#ff7a10" stroke-width="1.5"/>
<text x="192.9" y="10.7" font-size="12.8" textLength="15.8" lengthAdjust="spacingAndGlyphs">PS</text>
<line x1="230.7" y1="6.0" x2="251.7" y2="6.0" stroke="#1f9a22" stroke-width="1.5"/>
<text x="260.0" y="10.7" font-size="12.8" textLength="16.4" lengthAdjust="spacingAndGlyphs">PP</text>
<line x1="296.8" y1="6.0" x2="317.9" y2="6.0" stroke="#d41c22" stroke-width="1.5"/>
<text x="324.3" y="10.7" font-size="12.8" textLength="16.1" lengthAdjust="spacingAndGlyphs">PE</text>
</svg></body></html>
